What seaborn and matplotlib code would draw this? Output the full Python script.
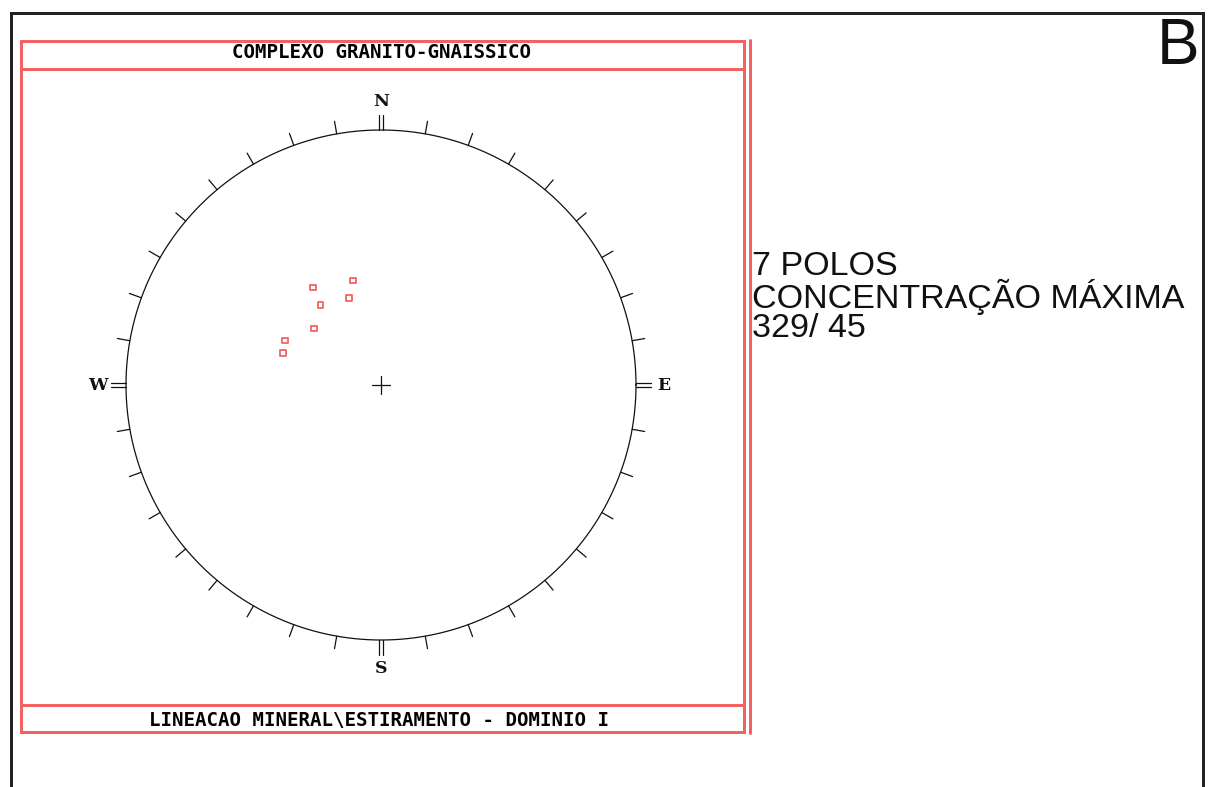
import numpy as np
import pandas as pd
import matplotlib
matplotlib.use('Agg')
import matplotlib.pyplot as plt
import seaborn as sns

# Lineation data (trend / plunge, degrees) - lower hemisphere, equal-angle net
trend = [345, 325, 340, 323, 310, 295, 288]
plunge = [44, 40, 50, 47, 52, 45, 46]

title_top = 'COMPLEXO GRANITO-GNAISSICO'
title_bottom = 'LINEACAO MINERAL\\ESTIRAMENTO - DOMINIO I'
info_lines = ['7 POLOS', 'CONCENTRAÇÃO MÁXIMA', '329/ 45']
panel_label = 'B'
cardinals = {'N': 0, 'E': 90, 'S': 180, 'W': 270}

RED = '#f26262'
W, H = 1208, 787

sns.set_style('white')
fig = plt.figure(figsize=(W / 100, H / 100), dpi=100)

# page axes in pixel coordinates (frames and text)
page = fig.add_axes([0, 0, 1, 1])
page.set_xlim(0, W)
page.set_ylim(H, 0)
page.axis('off')

lw_px = 100 / 72  # pixels per point
# black outer frame (open at bottom)
page.plot([10.5, 10.5, 1202.5, 1202.5], [H, 12.5, 12.5, H], color='#222222',
          lw=3 / lw_px, solid_joinstyle='miter')
# red frame
page.plot([20.5, 743.5, 743.5, 20.5, 20.5], [40.5, 40.5, 732, 732, 40.5],
          color=RED, lw=3 / lw_px, solid_joinstyle='miter')
page.plot([749.5, 749.5], [40, 733], color=RED, lw=3 / lw_px)
page.plot([20.5, 743.5], [68.5, 68.5], color=RED, lw=3 / lw_px)
page.plot([20.5, 743.5], [704.5, 704.5], color=RED, lw=3 / lw_px)

page.text(381, 52, title_top, ha='center', va='center', fontsize=13.8,
          family='DejaVu Sans Mono', fontweight='bold', color='black')
page.text(379, 720, title_bottom, ha='center', va='center', fontsize=13.8,
          family='DejaVu Sans Mono', fontweight='bold', color='black')

page.text(752, 251, '\n'.join(info_lines), ha='left', va='top', fontsize=24.5,
          family='Liberation Sans', linespacing=0.9, color='#111111')
page.text(1199, 64, panel_label, ha='right', va='baseline', fontsize=46,
          family='Liberation Sans', color='#111111')

# stereonet axes: unit circle centred at (381, 385) px with radius 255 px
cx, cy, R = 381, 385, 255
ext = 1.25
half = R * ext
net = fig.add_axes([(cx - half) / W, (H - cy - half) / H, 2 * half / W, 2 * half / H])
net.set_xlim(-ext, ext)
net.set_ylim(-ext, ext)
net.set_aspect('equal')
net.axis('off')

t = np.linspace(0, 2 * np.pi, 721)
net.plot(np.cos(t), np.sin(t), color='#111111', lw=0.9)

# 10 degree ticks
for az in range(0, 360, 10):
    a = np.radians(az)
    s, c = np.sin(a), np.cos(a)
    if az % 90 == 0:
        for off in (-0.008, 0.008):
            net.plot([s + off * c, 1.06 * s + off * c], [c - off * s, 1.06 * c - off * s],
                     color='#111111', lw=0.9)
    else:
        net.plot([s, 1.05 * s], [c, 1.05 * c], color='#111111', lw=0.9)

for name, az in cardinals.items():
    a = np.radians(az)
    net.text(1.11 * np.sin(a), 1.11 * np.cos(a), name, ha='center', va='center',
             fontsize=12.5, family='DejaVu Serif', fontweight='bold', color='#111111')

# centre cross
net.plot([-0.035, 0.035], [0, 0], color='#111111', lw=0.9)
net.plot([0, 0], [-0.035, 0.035], color='#111111', lw=0.9)

# project lineations (stereographic, lower hemisphere)
tr = np.radians(trend)
rho = np.tan(np.radians(90 - np.array(plunge)) / 2)
df = pd.DataFrame({'x': rho * np.sin(tr), 'y': rho * np.cos(tr)})
sns.scatterplot(data=df, x='x', y='y', ax=net, marker='s', s=16,
                facecolor='none', edgecolor=RED, linewidth=1.3)
net.axis('off')

fig.savefig('out.png', dpi=100)
